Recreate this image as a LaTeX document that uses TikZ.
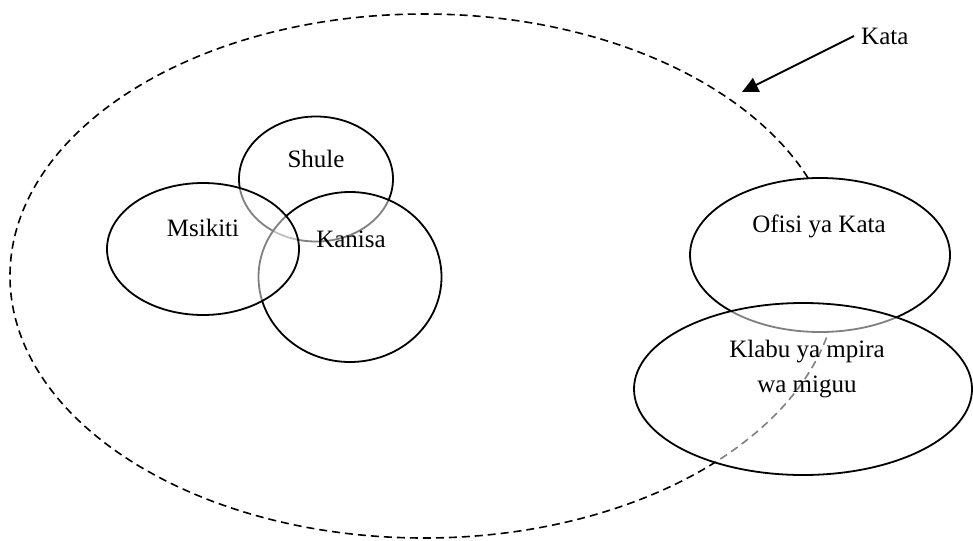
\documentclass[tikz,border=0pt]{standalone}
\usepackage{fontspec}
\setmainfont{Liberation Serif}
\usetikzlibrary{shapes.geometric,arrows.meta}
\begin{document}
\begin{tikzpicture}[x=1pt,y=-1pt,
  boundary/.style={ellipse, draw, line width=1.6pt, dash pattern=on 8pt off 5pt, inner sep=0pt},
  zone/.style={ellipse, draw, line width=1.8pt, inner sep=0pt, fill=white, fill opacity=0.5},
  solidzone/.style={zone, fill opacity=1},
  lbl/.style={font=\fontsize{25}{35}\selectfont, align=center, inner sep=0pt},
  pointer/.style={line width=1.8pt, -{Triangle[length=16pt,width=15pt]}}
]
\useasboundingbox (0,0) rectangle (973,540);

% the ward boundary
\node[boundary, minimum width=828pt, minimum height=524pt] (ward) at (424,276) {};

% ward office and football club
\node[solidzone, minimum width=260pt, minimum height=154pt] (ofisi) at (820,255) {};
\node[zone, minimum width=338pt, minimum height=172pt] (klabu) at (803,389) {};

% school, church, mosque
\node[zone, minimum width=154pt, minimum height=125pt] (shule) at (316,179) {};
\node[zone, minimum width=183pt, minimum height=170pt] (kanisa) at (350,277) {};
\node[zone, minimum width=192pt, minimum height=132pt] (msikiti) at (203,249) {};

% labels
\node[lbl] (tshule) at (316,159) {Shule};
\node[lbl] (tmsikiti) at (203,228) {Msikiti};
\node[lbl] (tkanisa) at (351,239) {Kanisa};
\node[lbl] (tofisi) at (819,226) {Ofisi ya Kata};
\node[lbl] (tklabu) at (807,369) {Klabu ya mpira\\wa miguu};
\node[lbl, anchor=west] (kata) at (861,36) {Kata};

% pointer to the boundary
\coordinate (tip) at (742,92);
\draw[pointer] ([xshift=-7pt]kata.west) -- (tip);
\end{tikzpicture}
\end{document}
